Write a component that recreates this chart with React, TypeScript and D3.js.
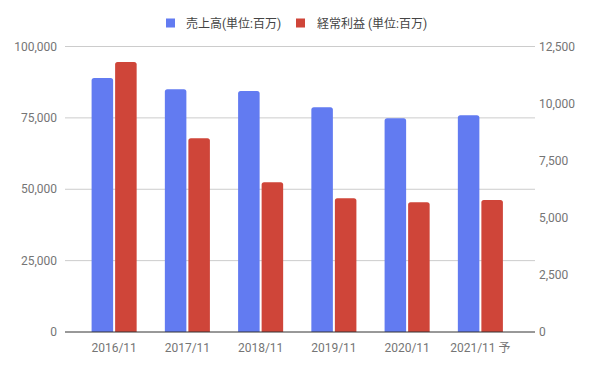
import React from "react";
import * as d3 from "d3";

// fiscal years and values
const years = ["2016/11", "2017/11", "2018/11", "2019/11", "2020/11", "2021/11 予"];
const sales = [89000, 85000, 84400, 78700, 74850, 75900];
const ordinaryProfit = [11820, 8480, 6560, 5860, 5680, 5780];
const leftTicks = [0, 25000, 50000, 75000, 100000];
const rightTicks = [0, 2500, 5000, 7500, 10000, 12500];
const seriesNames = ["売上高(単位:百万)", "経常利益 (単位:百万)"];
const seriesColors = ["#627BF1", "#CF4539"];

const W = 593;
const H = 366;
const margin = { top: 46.5, right: 61, bottom: 34, left: 65 };
const FONT = "Roboto, 'Noto Sans CJK JP', sans-serif";

// bar with rounded top corners
function topRounded(x: number, y: number, w: number, h: number, r: number) {
  const rr = Math.min(r, h, w / 2);
  return `M${x},${y + h}V${y + rr}Q${x},${y} ${x + rr},${y}H${x + w - rr}Q${x + w},${y} ${x + w},${y + rr}V${y + h}Z`;
}

const App = () => {
  const y0 = H - margin.bottom; // 332
  const yLeft = d3.scaleLinear().domain([0, 100000]).range([y0, margin.top]);
  const yRight = d3.scaleLinear().domain([0, 12500]).range([y0, margin.top]);

  const x = d3.scaleBand().domain(years).range([77.5, 517]).paddingInner(0.385).paddingOuter(0.1925);
  const xSub = d3.scaleBand().domain(["0", "1"]).range([0, x.bandwidth()]).paddingInner(0.085);

  const fmt = d3.format(",");
  const gridRight = W - margin.right + 3;

  return (
    <div style={{ position: "fixed", left: 0, top: 0 }}>
      <svg width={W} height={H} style={{ display: "block", background: "#fff" }} fontFamily={FONT}>
        {/* legend */}
        <g fontSize={12} fill="#444">
          <rect x={166} y={18.5} width={9} height={9} fill={seriesColors[0]} />
          <text x={186} y={27.5}>{seriesNames[0]}</text>
          <rect x={296} y={18.5} width={9} height={9} fill={seriesColors[1]} />
          <text x={317} y={27.5}>{seriesNames[1]}</text>
        </g>

        {/* gridlines + left axis */}
        {leftTicks.map((t) => (
          <g key={"l" + t}>
            {t !== 0 && (
              <line x1={margin.left} x2={gridRight} y1={yLeft(t)} y2={yLeft(t)} stroke="#ccc" strokeWidth={1} />
            )}
            <text x={57} y={yLeft(t)} dy="0.35em" textAnchor="end" fontSize={12} fill="#757575">
              {fmt(t)}
            </text>
          </g>
        ))}

        {/* right axis */}
        {rightTicks.map((t) => (
          <text key={"r" + t} x={539} y={yRight(t)} dy="0.35em" fontSize={12} fill="#757575">
            {fmt(t)}
          </text>
        ))}

        {/* bars */}
        {years.map((yr, i) => {
          const bx = x(yr)!;
          const hs = y0 - yLeft(sales[i]);
          const hp = y0 - yRight(ordinaryProfit[i]);
          return (
            <g key={yr}>
              <path d={topRounded(bx + xSub("0")!, yLeft(sales[i]), xSub.bandwidth(), hs, 2.5)} fill={seriesColors[0]} />
              <path d={topRounded(bx + xSub("1")!, yRight(ordinaryProfit[i]), xSub.bandwidth(), hp, 2.5)} fill={seriesColors[1]} />
              <text x={bx + x.bandwidth() / 2} y={y0 + 16} dy="0.35em" textAnchor="middle" fontSize={12} fill="#757575">
                {yr}
              </text>
            </g>
          );
        })}

        {/* baseline */}
        <line x1={margin.left} x2={gridRight} y1={y0} y2={y0} stroke="#333" strokeWidth={1} />
      </svg>
    </div>
  );
};

export default App;
